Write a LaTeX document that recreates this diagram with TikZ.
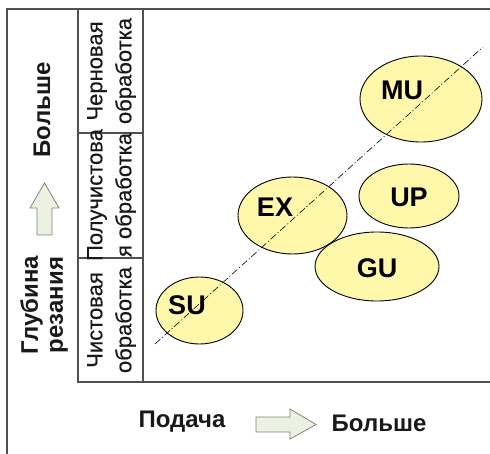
\documentclass[tikz,border=0pt]{standalone}
\usepackage{fontspec}
\setmainfont{Liberation Sans}
\newfontfamily\bandfont[FakeBold=0.35]{Liberation Sans}
\usetikzlibrary{shapes.geometric}
\definecolor{ellfill}{RGB}{255,247,170}
\definecolor{arrfill}{RGB}{236,242,226}
\definecolor{framegray}{RGB}{80,80,80}
\definecolor{textdark}{RGB}{25,25,25}
\begin{document}
\begin{tikzpicture}[x=1pt,y=-1pt,
  frame/.style={draw=framegray, line width=1.2pt},
  blob/.style={ellipse, draw=black, line width=0.9pt, fill=ellfill, inner sep=0pt},
  blobtext/.style={font=\fontsize{27}{30}\selectfont\bfseries, text=black},
  bigtext/.style={font=\fontsize{24}{25}\selectfont\bfseries, align=center, text=textdark},
  bandtext/.style={font=\bandfont\fontsize{22}{29}\selectfont, align=center, rotate=90, text=textdark},
  fatarrow/.style={draw=gray, fill=arrfill, line width=0.8pt},
  axisline/.style={draw=black, line width=0.6pt, dash pattern=on 7pt off 2.5pt on 1pt off 2.5pt}]
\useasboundingbox (0,0) rectangle (490,454);
% frame
\draw[frame] (7,454) -- (7,9) -- (490,9);
\draw[frame] (78,9) -- (78,382) -- (490,382);
\draw[frame] (143,9) -- (143,382);
\draw[frame] (78,133) -- (143,133);
\draw[frame] (78,258) -- (143,258);
% band labels
\node[bandtext] (rough) at (111.5,71) {Черновая\\обработка};
\node[bandtext] (semi) at (111.5,195) {Получистова\\я обработка};
\node[bandtext] (fine) at (111.5,320) {Чистовая\\обработка};
% ellipses
\node[blob, minimum width=122pt, minimum height=86pt] (mu) at (421,99) {};
\node[blob, minimum width=100pt, minimum height=64pt] (up) at (409,196) {};
\node[blob, minimum width=109pt, minimum height=77pt] (ex) at (292.5,215.5) {};
\node[blob, minimum width=124pt, minimum height=69pt] (gu) at (377,266.5) {};
\node[blob, minimum width=87pt, minimum height=67pt] (su) at (199.5,310.5) {};
% trend line
\coordinate (d1) at (155,344);
\coordinate (d2) at (483,47);
\draw[axisline] (d1) -- (d2);
% labels
\node[blobtext] (tmu) at (402,90) {MU};
\node[blobtext] (tup) at (409,197) {UP};
\node[blobtext] (tex) at (275,207) {EX};
\node[blobtext] (tgu) at (377,268) {GU};
\node[blobtext] (tsu) at (187,305) {SU};
% left axis
\node[bigtext, rotate=90] (more1) at (42,110) {Больше};
\draw[fatarrow] (37,235) -- (52,235) -- (52,208) -- (59,208) -- (44.5,183) -- (30,208) -- (37,208) -- cycle;
\node[bigtext, rotate=90] (depth) at (44,305) {Глубина\\резания};
% bottom axis
\node[bigtext] (feed) at (182,422) {Подача};
\draw[fatarrow] (256,417) -- (290,417) -- (290,409) -- (316,424.5) -- (290,439) -- (290,432) -- (256,432) -- cycle;
\node[bigtext] (more2) at (379,423) {Больше};
\end{tikzpicture}
\end{document}
